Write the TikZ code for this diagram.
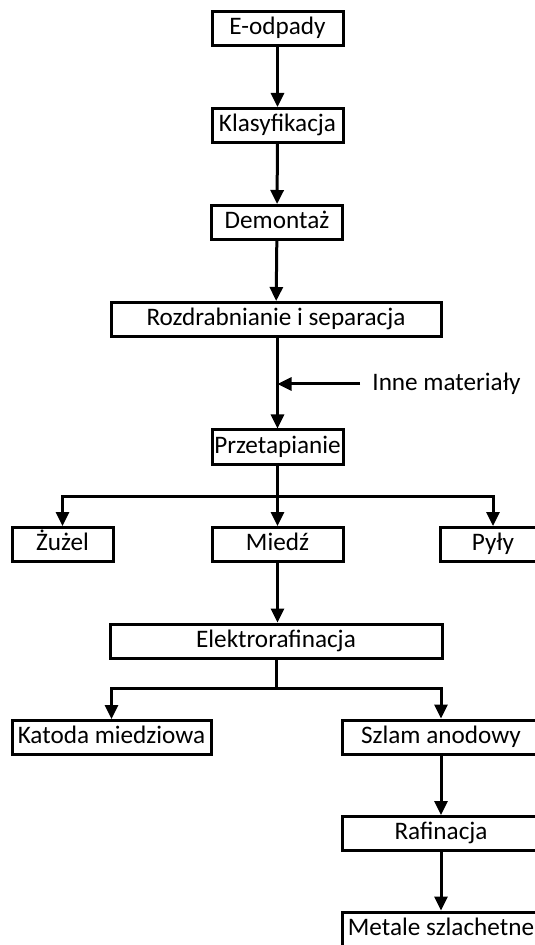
\documentclass[tikz,border=0pt]{standalone}
\usepackage{fontspec}
\setmainfont{Carlito}
\usetikzlibrary{arrows.meta}
\begin{document}
\begin{tikzpicture}[x=0.5pt,y=-0.5pt,
  lbl/.style={font=\fontsize{12.6}{14}\selectfont},
  box/.style={lbl, draw, line width=1.5pt, inner sep=0pt, minimum height=17pt,
    text height=9pt, text depth=3pt},
  flow/.style={line width=1.5pt, -{Triangle[width=6.5pt,length=7pt]}},
  line/.style={line width=1.5pt}]
\useasboundingbox (0,0) rectangle (534,945);

% main chain
\node[box, minimum width=65.5pt] (eod) at (277.5,28.5) {E-odpady};
\node[box, minimum width=65.5pt] (kla) at (277.5,125.5) {Klasyfikacja};
\node[box, minimum width=65.5pt] (dem) at (277,222.5) {Demontaż};
\node[box, minimum width=165pt] (roz) at (276,319.5) {Rozdrabnianie i separacja};
\node[box, minimum width=65.5pt] (prz) at (277.5,447) {Przetapianie};

% smelting products
\node[box, minimum width=50.5pt] (zuz) at (62.5,544.5) {Żużel};
\node[box, minimum width=65.5pt] (mie) at (277.5,544.5) {Miedź};
\node[box, minimum width=53pt] (pyl) at (493,544.5) {Pyły};

% electrorefining
\node[box, minimum width=166pt] (ele) at (276,641) {Elektrorafinacja};
\node[box, minimum width=99.5pt] (kat) at (111.5,737.5) {Katoda miedziowa};
\node[box, minimum width=99pt] (szl) at (441,737) {Szlam anodowy};
\node[box, minimum width=99pt] (raf) at (441,833.5) {Rafinacja};
\node[box, minimum width=99pt] (met) at (441,929) {Metale szlachetne};

% side input
\node[lbl, anchor=west, inner sep=0pt] (inne) at (372,384) {Inne materiały};
\coordinate (innestart) at (360,384);

\draw[flow] (eod) -- (kla);
\draw[flow] (kla) -- (dem);
\draw[flow] (dem) -- (roz);
\draw[flow] (roz.south -| prz.north) -- (prz.north);
\draw[flow] (innestart) -- (innestart -| prz.north);

% branching after smelting
\coordinate (b1) at (277.5,496);
\draw[line] (prz.south) -- (b1);
\draw[flow] (b1) -- (mie.north);
\draw[flow] (b1) -| (zuz.north);
\draw[flow] (b1) -| (pyl.north);

\draw[flow] (mie.south) -- (mie.south |- ele.north);

% branching after electrorefining
\coordinate (b2) at (276,688);
\draw[line] (ele.south) -- (b2);
\draw[flow] (b2) -| (kat.north);
\draw[flow] (b2) -| (szl.north);

\draw[flow] (szl) -- (raf);
\draw[flow] (raf) -- (met);
\end{tikzpicture}
\end{document}
